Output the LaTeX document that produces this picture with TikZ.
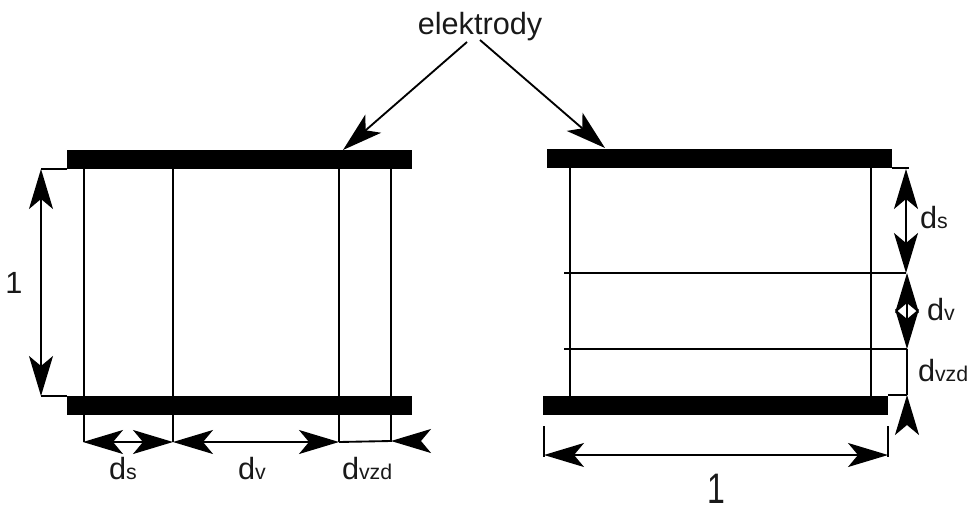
\documentclass[tikz,border=0pt]{standalone}
\usepackage{fontspec}
\setmainfont{Liberation Sans}
\usetikzlibrary{arrows.meta}
\tikzset{x=0.75pt, y=-0.75pt,
every path/.style={line width=1.4pt, black},
plate/.style={ % Electrode bars
fill=black, draw=none, rectangle, inner sep=0pt, outer sep=0pt,
minimum width=258.75pt, minimum height=14.6pt, anchor=north west},
tip/.tip={Stealth[length=30pt, width=18pt, inset=7.5pt]},
dim/.style={tip-tip},
lbl/.style={inner sep=0pt, outer sep=0pt, anchor=base west, font=\fontsize{23}{23}\selectfont, text=black!90}}
\newcommand{\dsub}[1]{d{\fontsize{16}{16}\selectfont #1}}

\begin{document}
\begin{tikzpicture}
\useasboundingbox (0,0) rectangle (971,504);
\node[lbl, anchor=center] (elektrody) at (480,27) {elektrody};
% left part
\node[plate] (lt) at (67,150) {};
\node[plate] (lb) at (67,396) {};
\foreach \x in {84,173,339,391} \draw (\x,169) -- (\x,442);
\draw (67,169) -- (41,169) (67,396) -- (41,396);
\draw[dim] (41,169) -- (41,396);
\draw[dim] (83,442) -- (173,442);
\draw[dim] (173,442) -- (339,442);
\draw (339,442) -- (391,441);
\draw[tip-] (391,441) -- (420,441);
\node[lbl, anchor=center] (one) at (14,283) {1};
\node[lbl] (ds) at (109,479) {\dsub{s}};
\node[lbl] (dv) at (238,479) {\dsub{v}};
\node[lbl] (dvzd) at (342,479) {\dsub{vzd}};
% right part
\node[plate] (rt) at (547,149) {};
\node[plate] (rb) at (543,395.5) {};
\foreach \x in {570,871} \draw (\x,168) -- (\x,396);
\draw (564,273) -- (906,273) (564,349) -- (907,349);
\draw (892,168) -- (909,168) (888,395) -- (907,395);
\draw[dim] (906,169) -- (906,273);
\draw[dim] (907,273) -- (907,349);
\draw (907,349) -- (907,395);
\draw[tip-] (907,395) -- (907,420);
\draw (544,426) -- (544,457) (888,426) -- (888,457);
\draw[dim] (544,455) -- (888,455);
\node[lbl] (rds) at (920,228) {\dsub{s}};
\node[lbl] (rdv) at (927,320) {\dsub{v}};
\node[lbl] (rdvzd) at (918,381) {\dsub{vzd}};
\node[lbl, anchor=base, font=\fontsize{32}{32}\selectfont, xscale=0.75, transform shape] (rone) at (716,503) {1};
% arrows to the plates
\draw[-tip] (467,42) -- (343,150);
\draw[-tip] (480,40) -- (605,148);
\end{tikzpicture}
\end{document}
